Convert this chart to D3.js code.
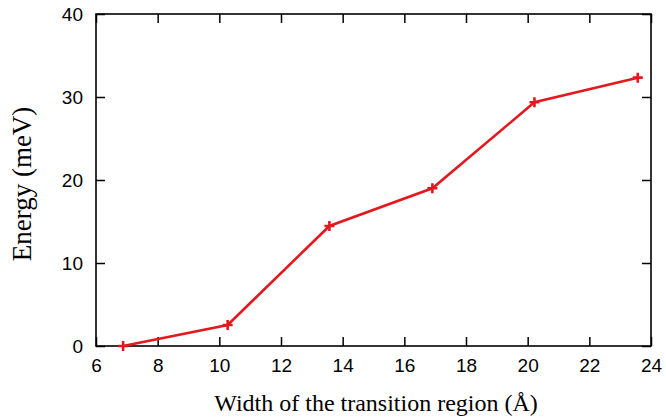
<!DOCTYPE html>
<html><head><meta charset="utf-8">
<script src="https://cdn.jsdelivr.net/npm/d3@7"></script>
<style>body{margin:0;background:#fff}svg{display:block}</style>
</head><body>
<svg id="c" width="666" height="420"></svg>
<script>
const widths = [6.88, 10.27, 13.57, 16.91, 20.22, 23.57];
const energies = [0, 2.53, 14.46, 19.0, 29.36, 32.33];
const xTicks = [6, 8, 10, 12, 14, 16, 18, 20, 22, 24];
const yTicks = [0, 10, 20, 30, 40];

const svg = d3.select("#c");
const L = 96, R = 651, T = 14, B = 346;
const x = d3.scaleLinear().domain([6, 24]).range([L, R]);
const y = d3.scaleLinear().domain([0, 40]).range([B, T]);
const tickLen = 9;

const axisStyle = g => {
  g.select(".domain").remove();
  g.selectAll(".tick line").attr("stroke", "#000").attr("stroke-width", 1.5);
  g.selectAll(".tick text").attr("font-family", "Liberation Sans, Arial, sans-serif")
    .attr("font-size", 19).attr("fill", "#000");
};

svg.append("g").attr("transform", `translate(0,${B})`)
  .call(d3.axisBottom(x).tickValues(xTicks).tickFormat(d3.format("d")).tickSizeInner(-tickLen).tickPadding(13))
  .call(axisStyle);
svg.append("g").attr("transform", `translate(0,${T})`)
  .call(d3.axisTop(x).tickValues(xTicks).tickFormat("").tickSizeInner(-tickLen))
  .call(axisStyle);
svg.append("g").attr("transform", `translate(${L},0)`)
  .call(d3.axisLeft(y).tickValues(yTicks).tickFormat(d3.format("d")).tickSizeInner(-tickLen).tickPadding(13))
  .call(axisStyle);
svg.append("g").attr("transform", `translate(${R},0)`)
  .call(d3.axisRight(y).tickValues(yTicks).tickFormat("").tickSizeInner(-tickLen))
  .call(axisStyle);

svg.append("rect").attr("x", L).attr("y", T).attr("width", R - L).attr("height", B - T)
  .attr("fill", "none").attr("stroke", "#000").attr("stroke-width", 1.6);

const data = widths.map((w, i) => [w, energies[i]]);
const red = "#e3191f";
svg.append("path").datum(data)
  .attr("d", d3.line().x(d => x(d[0])).y(d => y(d[1])))
  .attr("fill", "none").attr("stroke", red).attr("stroke-width", 2.6);

const m = 5;
svg.append("g").selectAll("path").data(data).join("path")
  .attr("d", d => { const px = x(d[0]), py = y(d[1]);
    return `M${px - m},${py}H${px + m}M${px},${py - m}V${py + m}`; })
  .attr("stroke", red).attr("stroke-width", 2.6).attr("fill", "none");

svg.append("text").attr("x", 376).attr("y", 411).attr("text-anchor", "middle")
  .attr("font-family", "Liberation Serif, Times New Roman, serif").attr("font-size", 24)
  .text("Width of the transition region (Å)");
svg.append("text").attr("transform", `translate(31,184) rotate(-90)`)
  .attr("text-anchor", "middle")
  .attr("font-family", "Liberation Serif, Times New Roman, serif").attr("font-size", 27)
  .text("Energy (meV)");
</script>
</body></html>
